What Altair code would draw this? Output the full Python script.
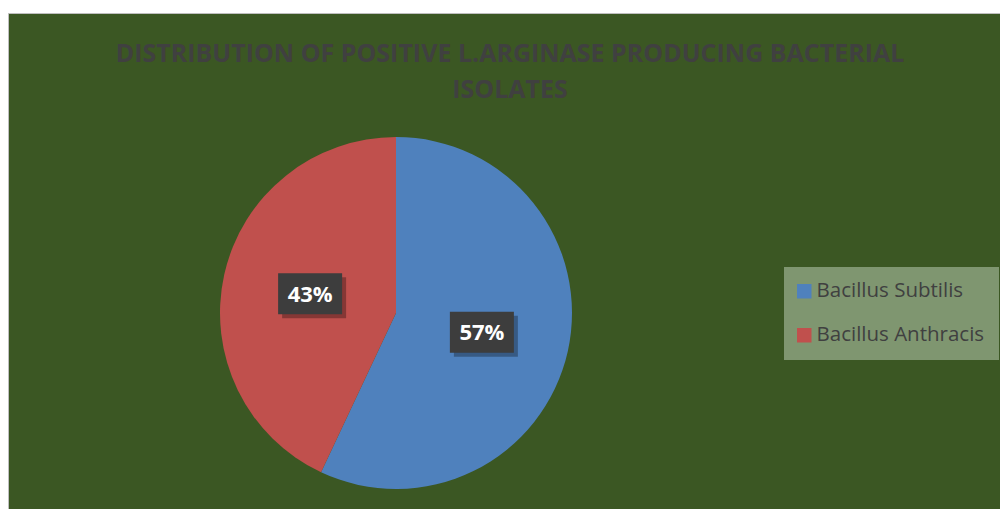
import altair as alt
import pandas as pd
import numpy as np

categories = ["Bacillus Subtilis", "Bacillus Anthracis"]
values = [57, 43]
labels = ["57%", "43%"]
title_lines = ["DISTRIBUTION OF POSITIVE L.ARGINASE PRODUCING BACTERIAL", "ISOLATES"]
colors = ["#4F81BD", "#C0504D"]

df = pd.DataFrame({"category": categories, "value": values, "label": labels,
                   "order": list(range(len(categories)))})
total = df["value"].sum()
end = df["value"].cumsum() / total
start = end - df["value"] / total
mid = (start + end) / 2
df["lx"] = 0.5 * np.sin(2 * np.pi * mid)
df["ly"] = 0.5 * np.cos(2 * np.pi * mid)

CX, CY, R = 388, 300, 176
xs = alt.Scale(domain=[-1, 1], range=[CX - R, CX + R])
ys = alt.Scale(domain=[-1, 1], range=[CY + R, CY - R])

base = alt.Chart(df)

pie = base.mark_arc(outerRadius=R).encode(
    theta=alt.Theta("value:Q", stack=True),
    order=alt.Order("order:Q"),
    color=alt.Color("category:N", sort=categories,
                    scale=alt.Scale(domain=categories, range=colors),
                    legend=alt.Legend(orient="none", legendX=776, legendY=254, title=None,
                                      fillColor="#7F9670", padding=14, symbolType="square",
                                      symbolSize=210, symbolStrokeWidth=0, symbolOffset=-4,
                                      labelFontSize=20.5,
                                      labelFont="Open Sans", labelColor="#404040",
                                      rowPadding=23, labelOffset=2, labelLimit=400)),
    x=alt.value(CX), y=alt.value(CY),
)

box_shape = "M-1,-0.64H1V0.64H-1Z"
pos = dict(x=alt.X("lx:Q", scale=xs, axis=None), y=alt.Y("ly:Q", scale=ys, axis=None))

shadow = base.mark_point(shape=box_shape, size=4096, filled=True, color="#000000",
                         opacity=0.3, xOffset=4, yOffset=4).encode(**pos)
box = base.mark_point(shape=box_shape, size=4096, filled=True, color="#3D3D3D",
                      opacity=1).encode(**pos)
txt = base.mark_text(font="Open Sans", fontWeight="bold", fontSize=22, color="white",
                     baseline="middle", align="center", dy=1).encode(text="label:N", **pos)

title_df = pd.DataFrame({"t": ["\n".join(title_lines)]})
title = alt.Chart(title_df).mark_text(font="Open Sans", fontWeight="bold", fontSize=25,
                                      color="#404040", lineBreak="\n", lineHeight=36,
                                      baseline="alphabetic", align="center").encode(
    text="t:N", x=alt.value(502), y=alt.value(49))

chart = alt.layer(pie, shadow, box, txt, title).properties(
    width=992, height=496,
    padding={"left": 8, "top": 13, "right": 0, "bottom": 0},
    autosize=alt.AutoSizeParams(type="none"),
    background="white",
).configure_view(fill="#3B5723", stroke="#BFBFBF", strokeWidth=1)

chart.save("out.html", embed_options={"renderer": "svg", "actions": False})
